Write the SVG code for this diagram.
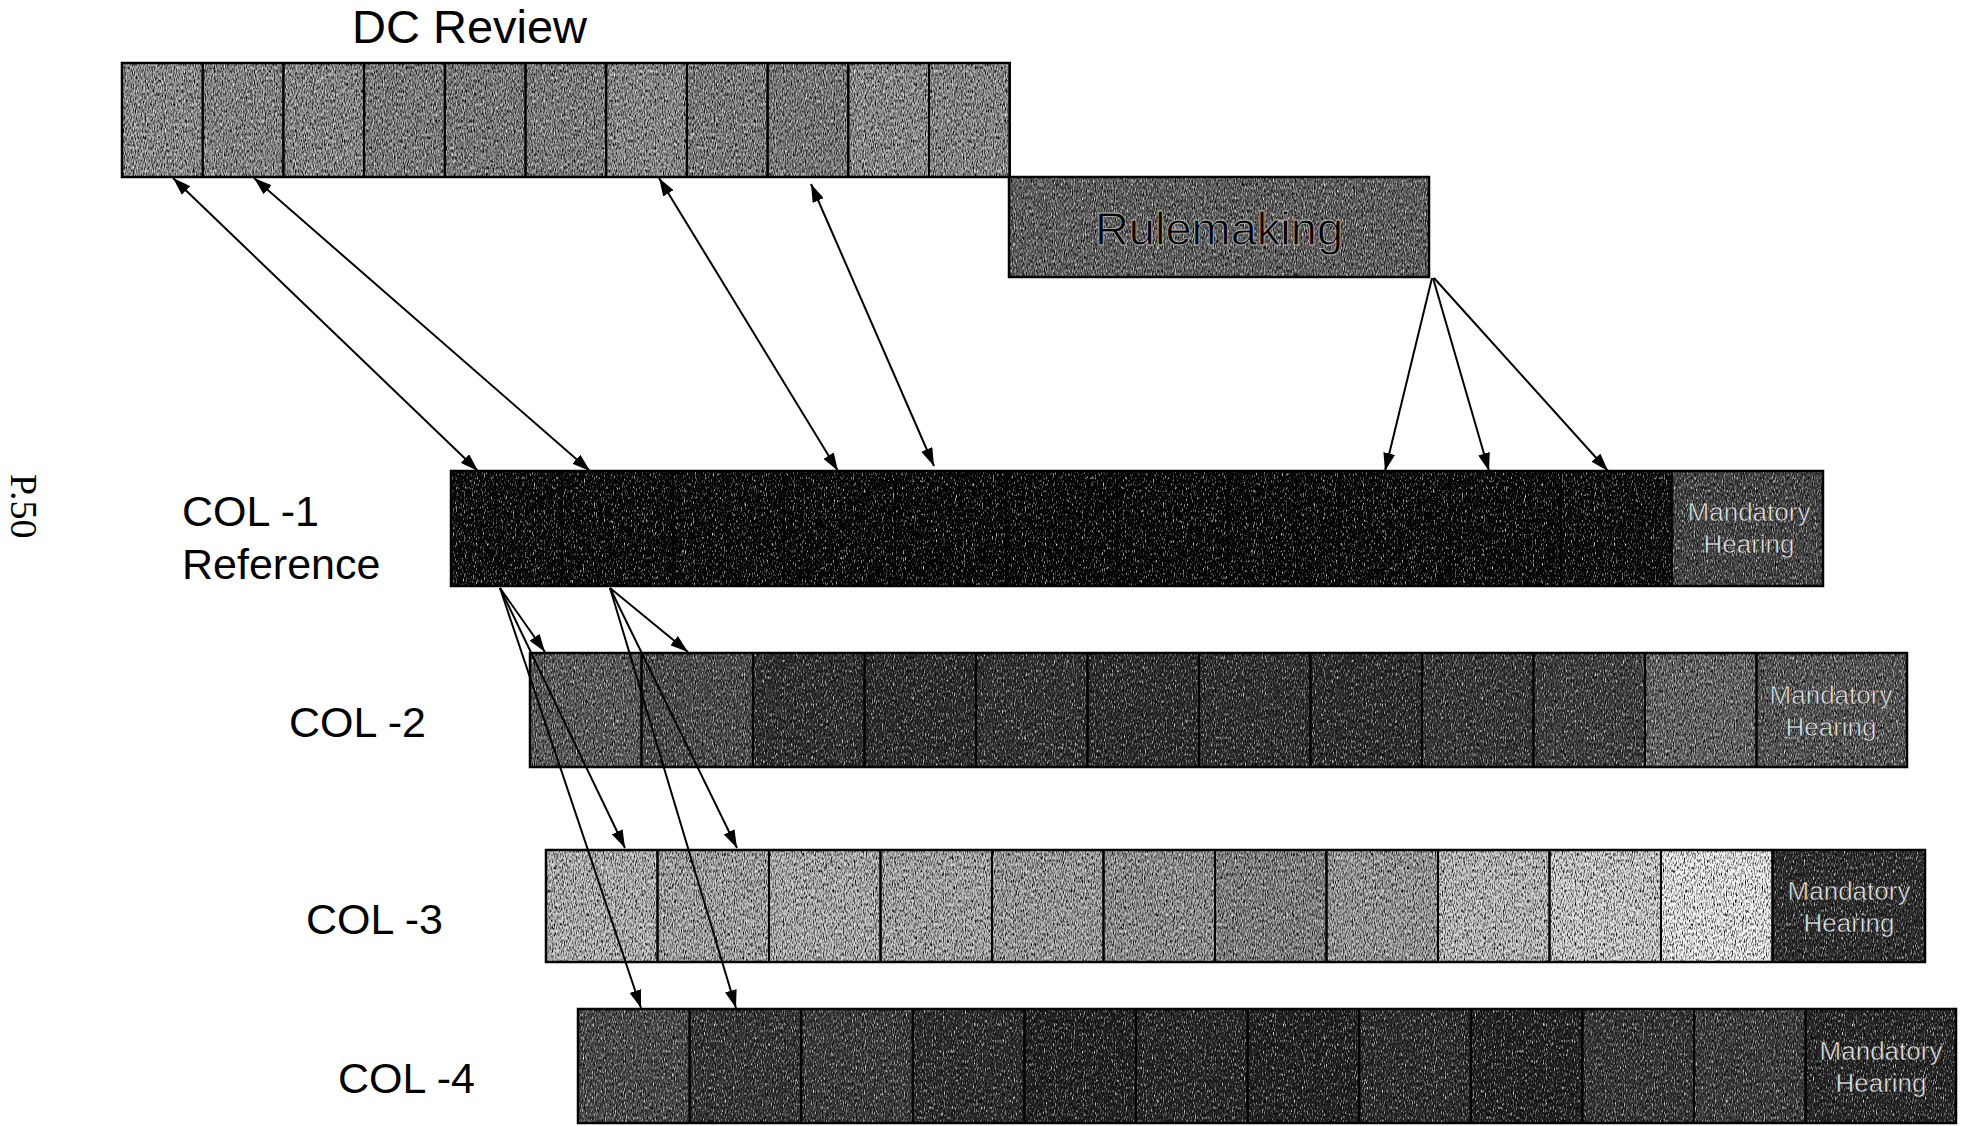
<svg xmlns="http://www.w3.org/2000/svg" width="1965" height="1126" viewBox="0 0 1965 1126">
<style>
.cell{stroke:#000;stroke-width:2}
.frame{fill:none;stroke:#000;stroke-width:2.5}
.lbl{font-family:"Liberation Sans",Arial,sans-serif;fill:#000}
.mh{font-family:"Liberation Sans",Arial,sans-serif;font-size:26px;fill:#e6e6e6;stroke:#111;stroke-width:0.5;text-anchor:middle}
.conn{stroke:#000;stroke-width:2;fill:none}
</style>
<defs>
<filter id="grain" x="0" y="0" width="100%" height="100%" color-interpolation-filters="sRGB">
<feTurbulence type="fractalNoise" baseFrequency="0.9 0.3" numOctaves="2" seed="7" result="noise"/>
<feColorMatrix in="noise" type="matrix" values="0.33 0.33 0.33 0 0  0.33 0.33 0.33 0 0  0.33 0.33 0.33 0 0  0 0 0 0 1" result="gray"/>
<feComponentTransfer in="gray" result="contrast">
<feFuncR type="linear" slope="2.2" intercept="-0.65"/>
<feFuncG type="linear" slope="2.2" intercept="-0.65"/>
<feFuncB type="linear" slope="2.2" intercept="-0.65"/>
</feComponentTransfer>
<feBlend in="SourceGraphic" in2="contrast" mode="overlay" result="mix"/>
<feComposite in="mix" in2="SourceGraphic" operator="in"/>
</filter>
<marker id="ah" viewBox="0 0 18 12" refX="18" refY="6" markerWidth="18" markerHeight="12" markerUnits="userSpaceOnUse" orient="auto-start-reverse">
<path d="M0,0 L18,6 L0,12 z" fill="#000"/>
</marker>
</defs>
<rect width="1965" height="1126" fill="#fff"/>

<text class="lbl" x="352" y="43" font-size="47">DC Review</text>
<text transform="translate(11,474) rotate(90)" font-family="'Liberation Serif','Times New Roman',serif" font-size="38" fill="#000">P.50</text>

<g id="node-dc-review">
<g filter="url(#grain)">
<rect x="122" y="63" width="80.7" height="114" fill="#989898"/>
<rect x="202.7" y="63" width="80.7" height="114" fill="#929292"/>
<rect x="283.4" y="63" width="80.7" height="114" fill="#949494"/>
<rect x="364.1" y="63" width="80.7" height="114" fill="#888"/>
<rect x="444.8" y="63" width="80.7" height="114" fill="#868686"/>
<rect x="525.5" y="63" width="80.7" height="114" fill="#898989"/>
<rect x="606.2" y="63" width="80.7" height="114" fill="#959595"/>
<rect x="686.9" y="63" width="80.7" height="114" fill="#888"/>
<rect x="767.6" y="63" width="80.7" height="114" fill="#848484"/>
<rect x="848.3" y="63" width="80.7" height="114" fill="#989898"/>
<rect x="929" y="63" width="80.7" height="114" fill="#939393"/>
</g>
<g class="cell" fill="none">
<rect x="122" y="63" width="80.7" height="114"/><rect x="202.7" y="63" width="80.7" height="114"/><rect x="283.4" y="63" width="80.7" height="114"/><rect x="364.1" y="63" width="80.7" height="114"/><rect x="444.8" y="63" width="80.7" height="114"/><rect x="525.5" y="63" width="80.7" height="114"/><rect x="606.2" y="63" width="80.7" height="114"/><rect x="686.9" y="63" width="80.7" height="114"/><rect x="767.6" y="63" width="80.7" height="114"/><rect x="848.3" y="63" width="80.7" height="114"/><rect x="929" y="63" width="80.7" height="114"/>
</g>
<rect class="frame" x="122" y="63" width="887.7" height="114"/>
</g>

<g id="node-rulemaking">
<rect x="1009" y="177" width="420" height="100" fill="#686868" filter="url(#grain)"/>
<rect class="frame" x="1009" y="177" width="420" height="100"/>
<text class="lbl" x="1219" y="245" font-size="47" text-anchor="middle" fill="#2a2a2a" stroke="#bbb" stroke-width="0.8">Rulemaking</text>
</g>

<g id="node-col1">
<text class="lbl" x="182" y="526" font-size="43">COL -1</text>
<text class="lbl" x="182" y="579" font-size="43">Reference</text>
<g filter="url(#grain)">
<rect x="451" y="471" width="111" height="115" fill="#060606"/>
<rect x="562" y="471" width="111" height="115" fill="#040404"/>
<rect x="673" y="471" width="111" height="115" fill="#050505"/>
<rect x="784" y="471" width="111" height="115" fill="#030303"/>
<rect x="895" y="471" width="111" height="115" fill="#020202"/>
<rect x="1006" y="471" width="111" height="115" fill="#020202"/>
<rect x="1117" y="471" width="111" height="115" fill="#030303"/>
<rect x="1228" y="471" width="111" height="115" fill="#030303"/>
<rect x="1339" y="471" width="111" height="115" fill="#050505"/>
<rect x="1450" y="471" width="111" height="115" fill="#050505"/>
<rect x="1561" y="471" width="111" height="115" fill="#080808"/>
<rect x="1672" y="471" width="151" height="115" fill="#4a4a4a"/>
</g>
<g class="cell" fill="none" stroke-opacity="0.6">
<rect x="451" y="471" width="111" height="115"/><rect x="562" y="471" width="111" height="115"/><rect x="673" y="471" width="111" height="115"/><rect x="784" y="471" width="111" height="115"/><rect x="895" y="471" width="111" height="115"/><rect x="1006" y="471" width="111" height="115"/><rect x="1117" y="471" width="111" height="115"/><rect x="1228" y="471" width="111" height="115"/><rect x="1339" y="471" width="111" height="115"/><rect x="1450" y="471" width="111" height="115"/><rect x="1561" y="471" width="111" height="115"/><rect x="1672" y="471" width="151" height="115"/>
</g>
<rect class="frame" x="451" y="471" width="1372" height="115"/>
<text class="mh" x="1749" y="521">Mandatory</text>
<text class="mh" x="1749" y="553">Hearing</text>
</g>

<g id="node-col2">
<text class="lbl" x="289" y="737" font-size="43">COL -2</text>
<g filter="url(#grain)">
<rect x="530" y="653" width="111.5" height="114" fill="#626262"/>
<rect x="641.5" y="653" width="111.5" height="114" fill="#525252"/>
<rect x="753" y="653" width="111.5" height="114" fill="#333"/>
<rect x="864.5" y="653" width="111.5" height="114" fill="#303030"/>
<rect x="976" y="653" width="111.5" height="114" fill="#363636"/>
<rect x="1087.5" y="653" width="111.5" height="114" fill="#303030"/>
<rect x="1199" y="653" width="111.5" height="114" fill="#333"/>
<rect x="1310.5" y="653" width="111.5" height="114" fill="#303030"/>
<rect x="1422" y="653" width="111.5" height="114" fill="#3c3c3c"/>
<rect x="1533.5" y="653" width="111.5" height="114" fill="#444"/>
<rect x="1645" y="653" width="111.5" height="114" fill="#6c6c6c"/>
<rect x="1756.5" y="653" width="150.5" height="114" fill="#5c5c5c"/>
</g>
<g class="cell" fill="none">
<rect x="530" y="653" width="111.5" height="114"/><rect x="641.5" y="653" width="111.5" height="114"/><rect x="753" y="653" width="111.5" height="114"/><rect x="864.5" y="653" width="111.5" height="114"/><rect x="976" y="653" width="111.5" height="114"/><rect x="1087.5" y="653" width="111.5" height="114"/><rect x="1199" y="653" width="111.5" height="114"/><rect x="1310.5" y="653" width="111.5" height="114"/><rect x="1422" y="653" width="111.5" height="114"/><rect x="1533.5" y="653" width="111.5" height="114"/><rect x="1645" y="653" width="111.5" height="114"/><rect x="1756.5" y="653" width="150.5" height="114"/>
</g>
<rect class="frame" x="530" y="653" width="1377" height="114"/>
<text class="mh" x="1831" y="704">Mandatory</text>
<text class="mh" x="1831" y="736">Hearing</text>
</g>

<g id="node-col3">
<text class="lbl" x="306" y="934" font-size="43">COL -3</text>
<g filter="url(#grain)">
<rect x="546" y="850" width="111.5" height="112" fill="#bdbdbd"/>
<rect x="657.5" y="850" width="111.5" height="112" fill="#b0b0b0"/>
<rect x="769" y="850" width="111.5" height="112" fill="#b8b8b8"/>
<rect x="880.5" y="850" width="111.5" height="112" fill="#b2b2b2"/>
<rect x="992" y="850" width="111.5" height="112" fill="#a8a8a8"/>
<rect x="1103.5" y="850" width="111.5" height="112" fill="#9c9c9c"/>
<rect x="1215" y="850" width="111.5" height="112" fill="#8c8c8c"/>
<rect x="1326.5" y="850" width="111.5" height="112" fill="#a4a4a4"/>
<rect x="1438" y="850" width="111.5" height="112" fill="#c6c6c6"/>
<rect x="1549.5" y="850" width="111.5" height="112" fill="#d6d6d6"/>
<rect x="1661" y="850" width="111.5" height="112" fill="#f2f2f2"/>
<rect x="1772.5" y="850" width="152.5" height="112" fill="#303030"/>
</g>
<g class="cell" fill="none">
<rect x="546" y="850" width="111.5" height="112"/><rect x="657.5" y="850" width="111.5" height="112"/><rect x="769" y="850" width="111.5" height="112"/><rect x="880.5" y="850" width="111.5" height="112"/><rect x="992" y="850" width="111.5" height="112"/><rect x="1103.5" y="850" width="111.5" height="112"/><rect x="1215" y="850" width="111.5" height="112"/><rect x="1326.5" y="850" width="111.5" height="112"/><rect x="1438" y="850" width="111.5" height="112"/><rect x="1549.5" y="850" width="111.5" height="112"/><rect x="1661" y="850" width="111.5" height="112"/><rect x="1772.5" y="850" width="152.5" height="112"/>
</g>
<rect class="frame" x="546" y="850" width="1379" height="112"/>
<text class="mh" x="1849" y="900">Mandatory</text>
<text class="mh" x="1849" y="932">Hearing</text>
</g>

<g id="node-col4">
<text class="lbl" x="338" y="1093" font-size="43">COL -4</text>
<g filter="url(#grain)">
<rect x="578" y="1009" width="111.6" height="114" fill="#505050"/>
<rect x="689.6" y="1009" width="111.6" height="114" fill="#3a3a3a"/>
<rect x="801.2" y="1009" width="111.6" height="114" fill="#404040"/>
<rect x="912.8" y="1009" width="111.6" height="114" fill="#303030"/>
<rect x="1024.4" y="1009" width="111.6" height="114" fill="#242424"/>
<rect x="1136" y="1009" width="111.6" height="114" fill="#2a2a2a"/>
<rect x="1247.6" y="1009" width="111.6" height="114" fill="#242424"/>
<rect x="1359.2" y="1009" width="111.6" height="114" fill="#303030"/>
<rect x="1470.8" y="1009" width="111.6" height="114" fill="#242424"/>
<rect x="1582.4" y="1009" width="111.6" height="114" fill="#3a3a3a"/>
<rect x="1694" y="1009" width="111.6" height="114" fill="#404040"/>
<rect x="1805.6" y="1009" width="150.4" height="114" fill="#2a2a2a"/>
</g>
<g class="cell" fill="none">
<rect x="578" y="1009" width="111.6" height="114"/><rect x="689.6" y="1009" width="111.6" height="114"/><rect x="801.2" y="1009" width="111.6" height="114"/><rect x="912.8" y="1009" width="111.6" height="114"/><rect x="1024.4" y="1009" width="111.6" height="114"/><rect x="1136" y="1009" width="111.6" height="114"/><rect x="1247.6" y="1009" width="111.6" height="114"/><rect x="1359.2" y="1009" width="111.6" height="114"/><rect x="1470.8" y="1009" width="111.6" height="114"/><rect x="1582.4" y="1009" width="111.6" height="114"/><rect x="1694" y="1009" width="111.6" height="114"/><rect x="1805.6" y="1009" width="150.4" height="114"/>
</g>
<rect class="frame" x="578" y="1009" width="1378" height="114"/>
<text class="mh" x="1881" y="1060">Mandatory</text>
<text class="mh" x="1881" y="1092">Hearing</text>
</g>

<g id="connectors">
<line class="conn" x1="173" y1="178" x2="478" y2="471" marker-start="url(#ah)" marker-end="url(#ah)"/>
<line class="conn" x1="254" y1="178" x2="590" y2="471" marker-start="url(#ah)" marker-end="url(#ah)"/>
<line class="conn" x1="659" y1="178" x2="838" y2="471" marker-start="url(#ah)" marker-end="url(#ah)"/>
<line class="conn" x1="811" y1="184" x2="934" y2="466" marker-start="url(#ah)" marker-end="url(#ah)"/>
<line class="conn" x1="1432" y1="278" x2="1385" y2="471" marker-end="url(#ah)"/>
<line class="conn" x1="1433" y1="278" x2="1489" y2="471" marker-end="url(#ah)"/>
<line class="conn" x1="1434" y1="278" x2="1608" y2="471" marker-end="url(#ah)"/>
<line class="conn" x1="500" y1="588" x2="545" y2="652" marker-end="url(#ah)"/>
<line class="conn" x1="500" y1="588" x2="625" y2="848" marker-end="url(#ah)"/>
<line class="conn" x1="500" y1="588" x2="641" y2="1008" marker-end="url(#ah)"/>
<line class="conn" x1="610" y1="588" x2="688" y2="652" marker-end="url(#ah)"/>
<line class="conn" x1="610" y1="588" x2="737" y2="848" marker-end="url(#ah)"/>
<line class="conn" x1="610" y1="588" x2="736" y2="1008" marker-end="url(#ah)"/>
</g>
</svg>
